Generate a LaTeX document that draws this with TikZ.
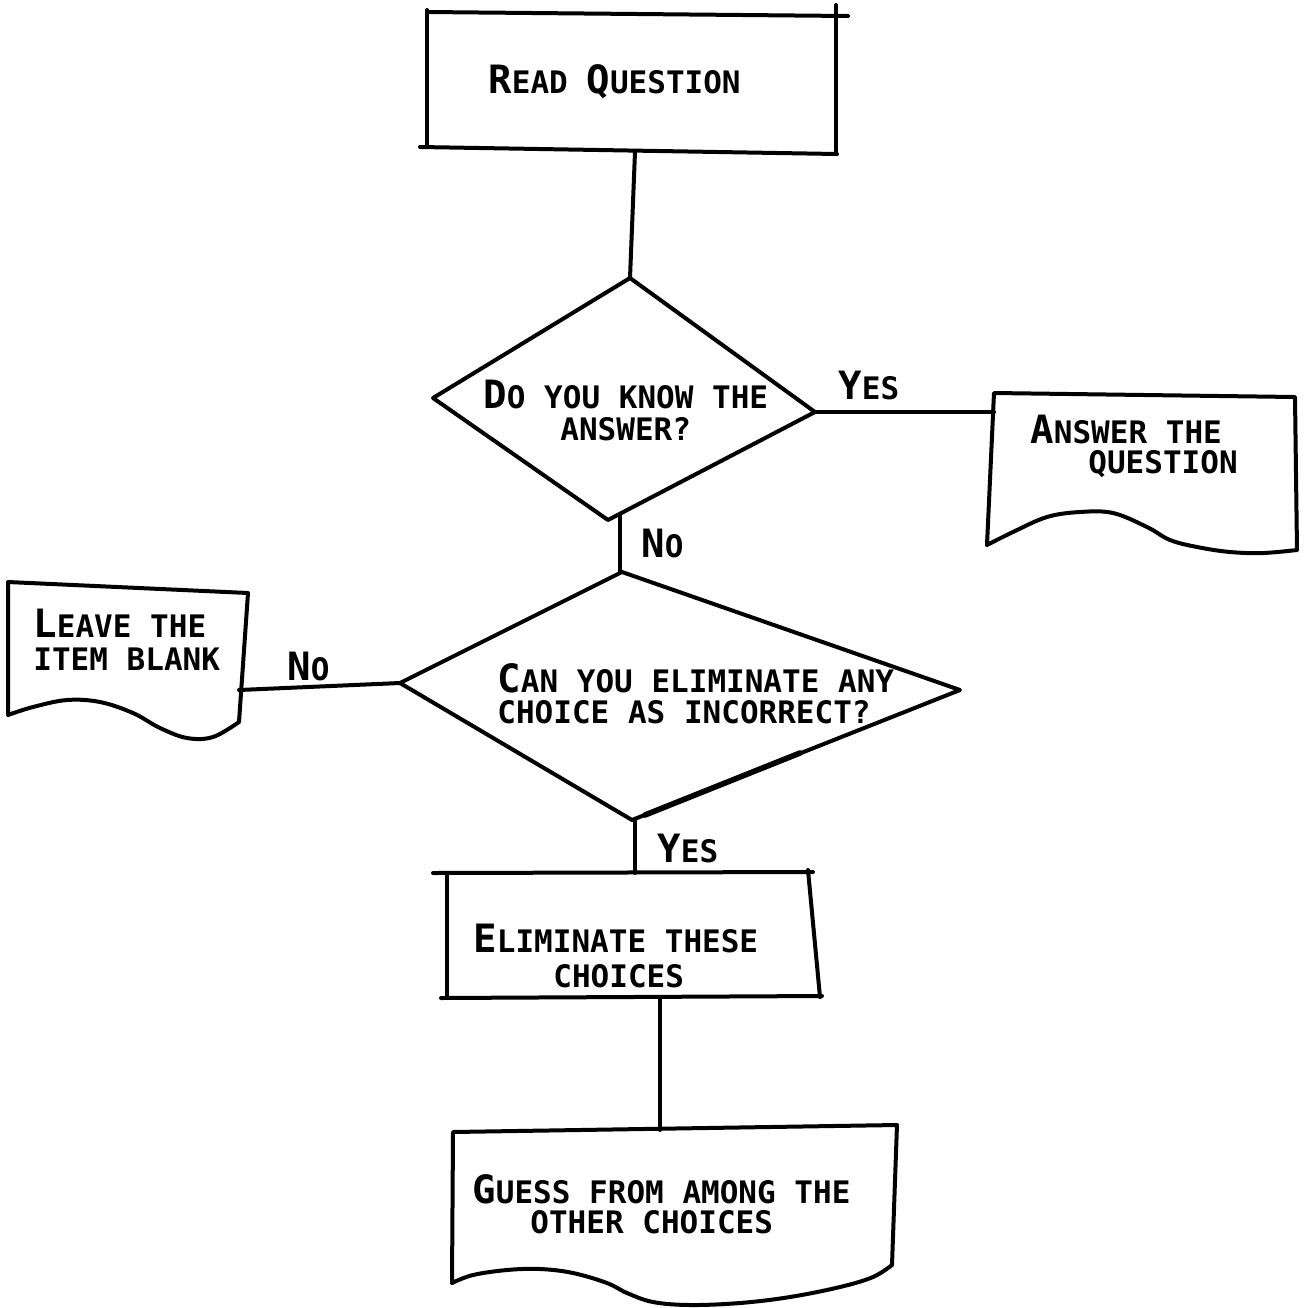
\documentclass[tikz,border=0pt]{standalone}
\usepackage{fontspec}
\newfontfamily\lett{DejaVu Sans Mono Bold}
\newcommand\Bc[1]{{\fontsize{19.5}{20}\selectfont #1}}
\begin{document}
\begin{tikzpicture}[x=0.5pt,y=-0.5pt,
  shp/.style={line width=2pt, line join=round, line cap=round},
  conn/.style={line width=2pt, line cap=round},
  lbl/.style={inner sep=0pt, anchor=base west, font={\lett\fontsize{15.5}{17}\selectfont}}]
\useasboundingbox[fill=white] (0,0) rectangle (1304,1308);

% ---------- Read question (process box)
\draw[shp] (427,12) -- (848,16);
\draw[shp] (836,5) -- (836,154);
\draw[shp] (420,147) -- (837,154);
\draw[shp] (427,10) -- (427,147);
\node[lbl] (t-read) at (488,93) {\Bc{R}EAD \Bc{Q}UESTION};
\coordinate (read-b) at (635,152);

% ---------- Decision 1
\coordinate (d1-t) at (630,278);
\coordinate (d1-r) at (815,412);
\coordinate (d1-b) at (608,520);
\coordinate (d1-l) at (433,398);
\coordinate (d1-bo) at (620,516);
\draw[shp] (d1-t) -- (d1-r) -- (d1-b) -- (d1-l) -- cycle;
\node[lbl] (t-d1a) at (483,408) {\Bc{D}O YOU KNOW THE};
\node[lbl] (t-d1b) at (560,440) {ANSWER?};

% ---------- Answer the question (document)
\draw[shp] (1297,550) -- (1295,397) -- (994,393) -- (987,545)
  plot[smooth, tension=0.6] coordinates {(987,545) (1013,532) (1047,517) (1080,512) (1113,513) (1147,527) (1170,540) (1197,547) (1230,552) (1263,553) (1297,550)};
\coordinate (ans-l) at (994,412);
\node[lbl] (t-ans1) at (1030,443) {\Bc{A}NSWER THE};
\node[lbl] (t-ans2) at (1088,473) {QUESTION};

% ---------- Decision 2
\coordinate (d2-t) at (622,572);
\coordinate (d2-r) at (960,690);
\coordinate (d2-b) at (632,820);
\coordinate (d2-l) at (400,683);
\draw[shp] (d2-t) -- (d2-r) -- (d2-b) -- (d2-l) -- cycle;
\draw[line width=2.8pt, line cap=round] (645,815) -- (800,753);
\node[lbl] (t-d2a) at (497,692) {\Bc{C}AN YOU ELIMINATE ANY};
\node[lbl] (t-d2b) at (497,723) {CHOICE AS INCORRECT?};
\coordinate (d2-bo) at (635,820);

% ---------- Leave the item blank (document)
\draw[shp] (239,722) -- (248,593) -- (8,582) -- (8,715)
  plot[smooth, tension=0.6] coordinates {(8,715) (33,707) (67,700) (100,702) (133,713) (160,728) (187,738) (213,737) (239,722)};
\coordinate (leave-r) at (239,690);
\node[lbl] (t-lv1) at (33,637) {\Bc{L}EAVE THE};
\node[lbl] (t-lv2) at (33,670) {ITEM BLANK};

% ---------- Eliminate these choices (process box)
\draw[shp] (433,873) -- (813,872);
\draw[shp] (447,873) -- (447,998);
\draw[shp] (808,870) -- (820,997);
\draw[shp] (441,998) -- (822,996);
\coordinate (elim-t) at (635,873);
\coordinate (elim-b) at (660,997);
\node[lbl] (t-el1) at (473,952) {\Bc{E}LIMINATE THESE};
\node[lbl] (t-el2) at (553,987) {CHOICES};

% ---------- Guess (document)
\draw[shp] (892,1265) -- (897,1125) -- (453,1132) -- (452,1283)
  plot[smooth, tension=0.6] coordinates {(452,1283) (473,1275) (507,1270) (540,1269) (573,1273) (607,1283) (627,1293) (653,1302) (690,1305) (740,1303) (790,1297) (840,1287) (873,1277) (892,1265)};
\coordinate (guess-t) at (660,1130);
\node[lbl] (t-gu1) at (472,1203) {\Bc{G}UESS FROM AMONG THE};
\node[lbl] (t-gu2) at (530,1233) {OTHER CHOICES};

% ---------- Connectors
\draw[conn] (read-b) -- (d1-t);
\draw[conn] (d1-r) -- (ans-l);
\draw[conn] (d1-bo) -- (d2-t -| d1-bo);
\draw[conn] (d2-l) -- (leave-r);
\draw[conn] (d2-bo) -- (elim-t);
\draw[conn] (elim-b) -- (guess-t);

% ---------- Connector labels
\node[lbl] (l-yes1) at (838,399) {\Bc{Y}ES};
\node[lbl] (l-no1) at (641,557) {\Bc{N}O};
\node[lbl] (l-no2) at (287,680) {\Bc{N}O};
\node[lbl] (l-yes2) at (657,862) {\Bc{Y}ES};
\end{tikzpicture}
\end{document}
